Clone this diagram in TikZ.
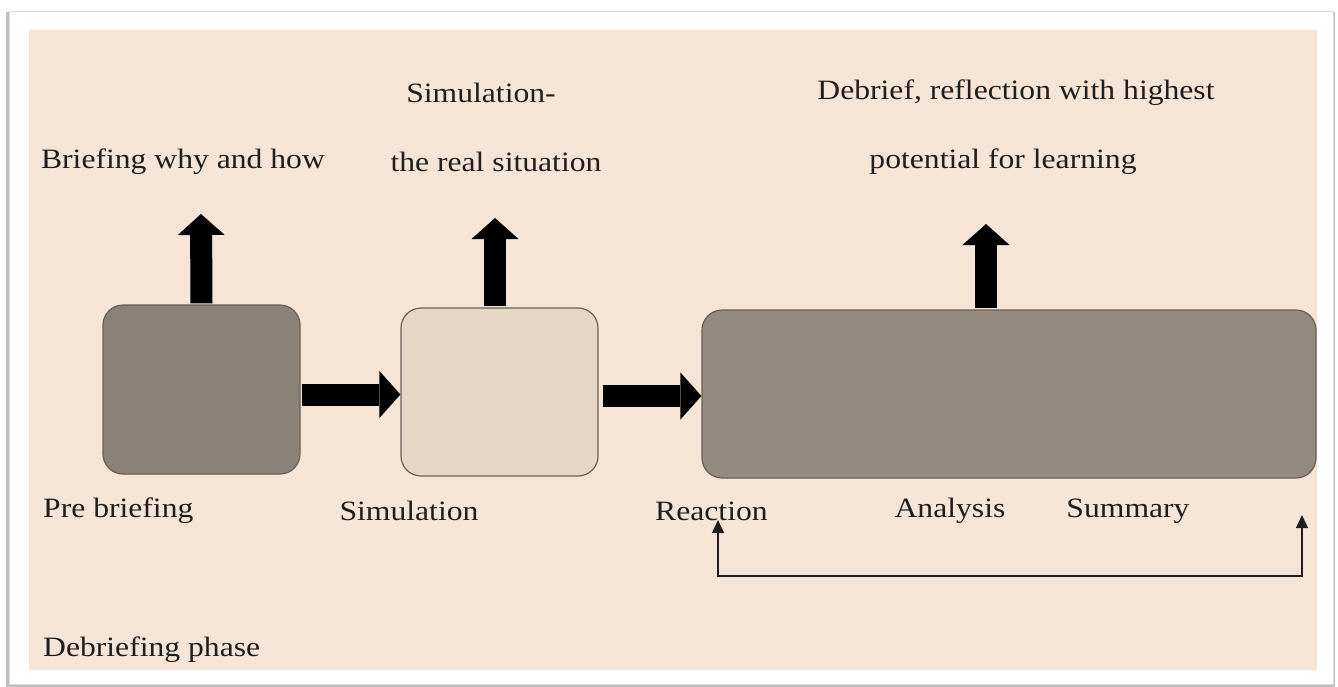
\documentclass[tikz,border=0pt]{standalone}
\usepackage{fontspec}
\setmainfont{Liberation Serif}[FakeStretch=1.13]
\usetikzlibrary{arrows.meta,calc}
\definecolor{panel}{HTML}{F6E5D5}
\definecolor{darkbox}{HTML}{8A8177}
\definecolor{lightbox}{HTML}{E6D7C4}
\definecolor{bigbox}{HTML}{948A7E}
\definecolor{boxline}{HTML}{675F57}
\definecolor{txt}{HTML}{1E1E1E}
\tikzset{
  phasebox/.style={draw=boxline, line width=1.2pt, rounded corners=20pt, inner sep=0pt},
  bigarrow/.style={line width=22pt, -{Triangle[length=21pt,width=47pt,line width=0pt]}, shorten <=0pt},
  lbl/.style={font=\fontsize{28}{31}\selectfont, text=txt, inner sep=0pt},
  loop/.style={line width=1.3pt, draw=txt, {Triangle[length=13pt,width=12pt]}-{Triangle[length=13pt,width=12pt]}}
}
\begin{document}
\begin{tikzpicture}[x=1pt,y=-1pt]
\useasboundingbox (0,0) rectangle (1338,686);
\fill[white] (0,0) rectangle (1338,686);
% frame with shadow
\fill[black!25] (6,12) rectangle (1335,687);
\fill[white,draw=black!15] (9,11) rectangle (1333,684);
\fill[panel] (29,30) rectangle (1317,670);
% boxes
\node[phasebox, fill=darkbox, minimum width=197pt, minimum height=169pt] (b1) at (201.5,389.5) {};
\node[phasebox, fill=lightbox, minimum width=197pt, minimum height=168pt] (b2) at (499.5,392) {};
\node[phasebox, fill=bigbox, minimum width=614pt, minimum height=168pt] (b3) at (1009,394) {};
% upward arrows
\coordinate (t1) at (201,214);
\coordinate (t2) at (495,218);
\coordinate (t3) at (986,224);
\draw[bigarrow] ([yshift=1pt]b1.north) -- (t1);
\draw[bigarrow] ([yshift=1pt]t2 |- b2.north) -- (t2);
\draw[bigarrow] ([yshift=1pt]t3 |- b3.north) -- (t3);
% horizontal arrows
\draw[bigarrow] ([yshift=-5pt,xshift=1pt]b1.east) -- ([yshift=-5pt]b1.east -| b2.west);
\draw[bigarrow] ([yshift=-4pt,xshift=4pt]b2.east) -- ([yshift=-4pt]b2.east -| b3.west);
% labels above
\node[lbl] (l1) at (183,162) {Briefing why and how};
\node[lbl] (l2a) at (481,93) {Simulation-};
\node[lbl] (l2b) at (496,162) {the real situation};
\node[lbl] (l3a) at (1016,93) {Debrief, reflection with highest};
\node[lbl] (l3b) at (1003,162) {potential for learning};
% labels below
\node[lbl, anchor=west] (p1) at (43,511) {Pre briefing};
\node[lbl] (p2) at (409,511) {Simulation};
\node[lbl, anchor=west] (p3) at (655,511) {Reaction};
\node[lbl] (p4) at (950,511) {Analysis};
\node[lbl] (p5) at (1128,511) {Summary};
\node[lbl, anchor=west] (p6) at (43,650) {Debriefing phase};
% feedback loop
\coordinate (r1) at (718,520);
\coordinate (r2) at (1302,515);
\draw[loop] (r1) -- (718,576) -- (1302,576) -- (r2);
\end{tikzpicture}
\end{document}
